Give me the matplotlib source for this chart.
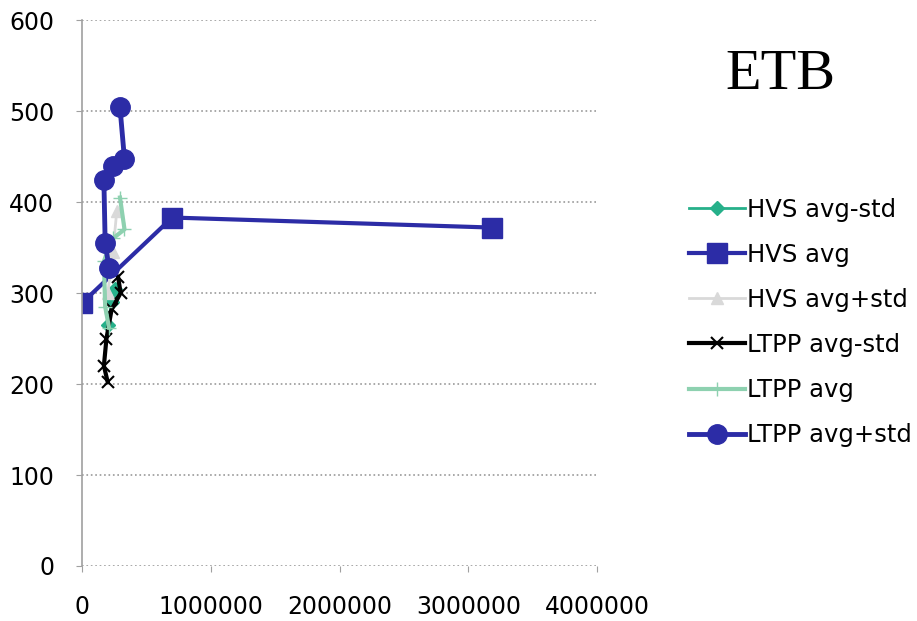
import matplotlib
matplotlib.use("Agg")
import matplotlib.pyplot as plt

# HVS series (traffic vs. ETB)
hvs_x = [0, 700000, 3180000]
hvs_avg = [289, 383, 372]
hvs_minus_x = [200000, 230000, 260000]
hvs_minus = [265, 290, 305]
hvs_plus_x = [200000, 240000, 270000]
hvs_plus = [300, 345, 390]

# LTPP series
ltpp_x = [295000, 330000, 240000, 170000, 180000, 210000]
ltpp_plus = [504, 447, 440, 424, 355, 328]
ltpp_avg = [405, 370, 360, 335, 285, 262]
ltpp_minus_x = [280000, 300000, 230000, 190000, 170000, 200000]
ltpp_minus = [318, 300, 282, 250, 220, 202]

navy = "#2c2ca6"

fig = plt.figure(figsize=(9.17, 6.21), dpi=100)
ax = fig.add_axes([0.0894, 0.0886, 0.562, 0.879])

ax.plot(hvs_minus_x, hvs_minus, color="#26b08a", marker="D", ms=7, lw=2, label="HVS avg-std")
ax.plot(hvs_x, hvs_avg, color=navy, marker="s", ms=15, lw=3, label="HVS avg")
ax.plot(hvs_plus_x, hvs_plus, color="#d9d9d9", marker="^", ms=9, lw=2, label="HVS avg+std")
ax.plot(ltpp_minus_x, ltpp_minus, color="black", marker="x", ms=9, mew=1.5, lw=3, label="LTPP avg-std")
ax.plot(ltpp_x, ltpp_avg, color="#8ed1b0", marker="+", ms=10, lw=3, label="LTPP avg")
ax.plot(ltpp_x, ltpp_plus, color=navy, marker="o", ms=14, lw=3.5, label="LTPP avg+std")

ax.set_xlim(0, 4000000)
ax.set_ylim(0, 600)
ax.set_xticks([0, 1000000, 2000000, 3000000, 4000000])
ax.set_xticklabels(["0", "1000000", "2000000", "3000000", "4000000"])
ax.set_yticks(range(0, 601, 100))

ax.grid(axis="y", linestyle=":", color="#9a9a9a", lw=1.2)
ax.set_axisbelow(True)
for s in ["top", "right", "bottom"]:
    ax.spines[s].set_visible(False)
ax.spines["left"].set_color("#a0a0a0")
ax.spines["left"].set_linewidth(1.2)
ax.tick_params(axis="y", length=4, color="#a0a0a0", pad=16, labelsize=17)
ax.tick_params(axis="x", length=4, color="#a0a0a0", pad=17, labelsize=17)

ax.legend(loc="upper left", bbox_to_anchor=(1.135, 0.715), frameon=False,
          fontsize=17.5, handlelength=2.3, handletextpad=0.1, labelspacing=0.87)

fig.text(0.851, 0.88, "ETB", family="Liberation Serif", fontsize=42,
         ha="center", va="center")

fig.savefig("out.png", dpi=100)
